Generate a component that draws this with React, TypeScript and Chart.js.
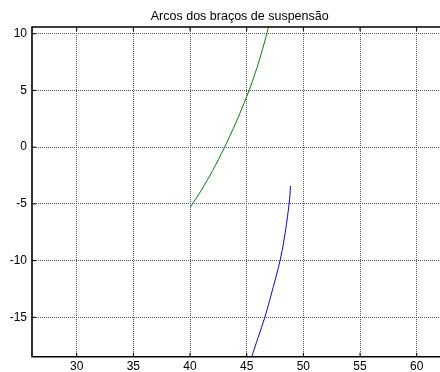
import React, { useEffect, useRef } from "react";
import { Chart, registerables } from "chart.js";

Chart.register(...registerables);

const titleText = "Arcos dos braços de suspensão";

const greenX = [40.05, 41.0, 42.0, 43.0, 44.0, 45.0, 45.5, 46.0, 46.5, 46.8, 47.0];
const greenY = [-5.25, -3.8, -2.05, -0.1, 2.05, 4.45, 5.8, 7.3, 9.0, 10.1, 10.9];

const blueX = [45.4, 46.0, 46.6, 47.0, 47.35, 47.7, 47.94, 48.15, 48.33, 48.55, 48.74, 48.82, 48.86];
const blueY = [-18.6, -16.8, -15.0, -13.6, -12.3, -11.0, -10.0, -9.0, -7.94, -6.5, -5.0, -4.2, -3.42];

const xTicks = [30, 35, 40, 45, 50, 55, 60];
const yTicks = [-15, -10, -5, 0, 5, 10];

const xMin = 26.056;
const xMax = 62.056;
const yMin = -18.47;
const yMax = 10.59;

const FONT = "'Liberation Sans', Arial, Helvetica, sans-serif";

const toPoints = (xs: number[], ys: number[]) => xs.map((x, i) => ({ x, y: ys[i] }));

const setTicks = (values: number[]) => (scale: any) => {
  scale.ticks = values.map((v) => ({ value: v }));
};

const framePlugin = {
  id: "frame",
  afterDraw(chart: any) {
    const { ctx, chartArea } = chart;
    const { left, top, right, bottom } = chartArea;
    const xs = chart.scales.x;
    const ys = chart.scales.y;
    ctx.save();
    ctx.strokeStyle = "#000";
    ctx.lineWidth = 1;
    ctx.beginPath();
    xs.ticks.forEach((t: any) => {
      const px = xs.getPixelForValue(t.value);
      ctx.moveTo(px, top);
      ctx.lineTo(px, top + 4);
      ctx.moveTo(px, bottom);
      ctx.lineTo(px, bottom - 4);
    });
    ys.ticks.forEach((t: any) => {
      const py = ys.getPixelForValue(t.value);
      ctx.moveTo(left, py);
      ctx.lineTo(left + 4, py);
    });
    ctx.stroke();
    ctx.lineWidth = 1.6;
    ctx.beginPath();
    ctx.moveTo(right, top);
    ctx.lineTo(left, top);
    ctx.lineTo(left, bottom);
    ctx.lineTo(right, bottom);
    ctx.stroke();
    ctx.fillStyle = "#000";
    ctx.font = `12.5px ${FONT}`;
    ctx.textAlign = "center";
    ctx.textBaseline = "alphabetic";
    ctx.fillText(titleText, 239.7, 20);
    ctx.restore();
  },
};

export default function App() {
  const ref = useRef<HTMLCanvasElement | null>(null);
  useEffect(() => {
    if (!ref.current) return;
    const chart = new Chart(ref.current, {
      type: "scatter",
      data: {
        datasets: [
          {
            data: toPoints(greenX, greenY),
            showLine: true,
            borderColor: "#008000",
            borderWidth: 1,
            pointRadius: 0,
            tension: 0.3,
          },
          {
            data: toPoints(blueX, blueY),
            showLine: true,
            borderColor: "#0000ff",
            borderWidth: 1,
            pointRadius: 0,
            tension: 0.3,
          },
        ],
      },
      options: {
        responsive: false,
        animation: false,
        layout: { padding: { top: 27, left: 0, right: 0, bottom: 0 } },
        plugins: {
          legend: { display: false },
          title: { display: false },
          tooltip: { enabled: false },
        },
        scales: {
          x: {
            type: "linear",
            min: xMin,
            max: xMax,
            ticks: {
              autoSkip: false,
              padding: 3,
              color: "#000",
              font: { family: FONT, size: 12 },
              maxRotation: 0,
            },
            afterBuildTicks: setTicks(xTicks),
            afterFit: (s: any) => {
              s.height = 15.3;
            },
            grid: { color: "#5a5a5a", lineWidth: 1, drawTicks: false },
            border: { display: false, dash: [1, 1] },
          },
          y: {
            type: "linear",
            min: yMin,
            max: yMax,
            ticks: {
              autoSkip: false,
              padding: 5,
              color: "#000",
              font: { family: FONT, size: 12 },
            },
            afterBuildTicks: setTicks(yTicks),
            afterFit: (s: any) => {
              s.width = 32;
            },
            grid: { color: "#5a5a5a", lineWidth: 1, drawTicks: false },
            border: { display: false, dash: [1, 1] },
          },
        },
      },
      plugins: [framePlugin],
    });
    return () => chart.destroy();
  }, []);
  return (
    <div style={{ position: "absolute", left: 0, top: 0, width: 440, height: 372, background: "#fff" }}>
      <canvas ref={ref} width={440} height={372} style={{ display: "block" }} />
    </div>
  );
}
